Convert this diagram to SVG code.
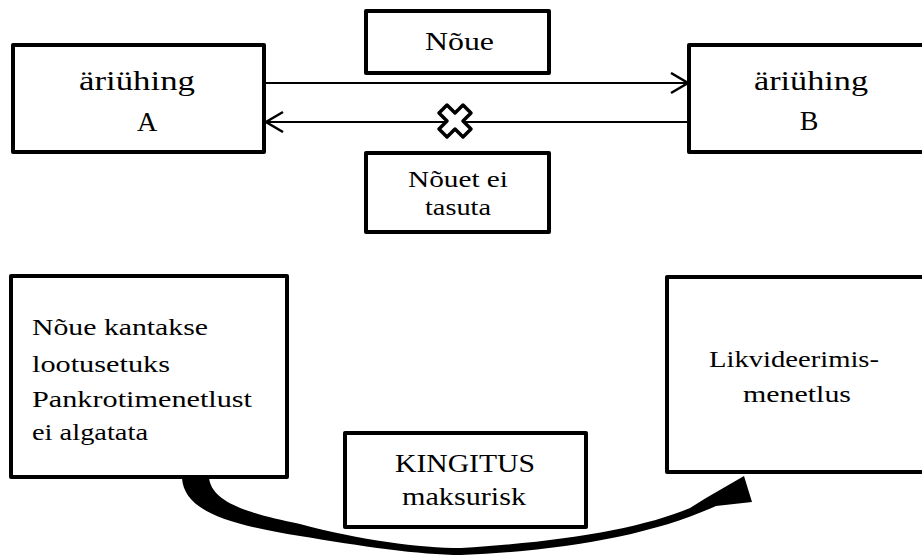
<svg xmlns="http://www.w3.org/2000/svg" width="922" height="558" viewBox="0 0 922 558">
<defs>
<style>
.box{fill:#fff;stroke:#000;stroke-width:4;stroke-linejoin:round}
.t{font-family:"Liberation Serif","Times New Roman",serif;fill:#000}
.ln{stroke:#000;stroke-width:2;fill:none}
</style>
<marker id="chev" markerUnits="userSpaceOnUse" markerWidth="24" markerHeight="26" refX="18" refY="11" orient="auto">
<path d="M1,1 L18,11 L1,21" fill="none" stroke="#000" stroke-width="2.5"/>
</marker>
</defs>
<rect width="922" height="558" fill="#fff"/>

<g id="connectors">
<line class="ln" x1="264" y1="83" x2="688" y2="83" marker-end="url(#chev)"/>
<line class="ln" x1="688" y1="122" x2="266" y2="122" marker-end="url(#chev)"/>
<path id="curved-arrow" fill="#000" d="M182,478 C184,510 225,524 300,536 C360,546 420,555 461,555 C560,551 650,536 716,506 L752,502 L744,476 L706,498 L690,508 C640,529 560,542 461,548 C420,548 360,540 300,524 C240,512 212,500 209,478 Z"/>
</g>

<g id="cross">
<path transform="translate(455,121)" d="M-16,-8 L-8,-16 L0,-8 L8,-16 L16,-8 L8,0 L16,8 L8,16 L0,8 L-8,16 L-16,8 L-8,0 Z" fill="#fff" stroke="#000" stroke-width="3.5" stroke-linejoin="round"/>
</g>

<g id="node-a">
<rect class="box" x="13" y="45" width="251" height="107"/>
<text class="t" x="79" y="90" font-size="28" textLength="116" lengthAdjust="spacingAndGlyphs">äriühing</text>
<text class="t" x="147" y="131" font-size="28" text-anchor="middle">A</text>
</g>

<g id="node-b">
<rect class="box" x="689" y="45" width="260" height="107"/>
<text class="t" x="754" y="90" font-size="28" textLength="114" lengthAdjust="spacingAndGlyphs">äriühing</text>
<text class="t" x="809" y="130" font-size="28" text-anchor="middle">B</text>
</g>

<g id="node-noue">
<rect class="box" x="366" y="11" width="183" height="62"/>
<text class="t" x="425" y="50" font-size="25" textLength="69" lengthAdjust="spacingAndGlyphs">Nõue</text>
</g>

<g id="node-noue-ei">
<rect class="box" x="366" y="153" width="183" height="79"/>
<text class="t" x="408" y="187" font-size="24" textLength="100" lengthAdjust="spacingAndGlyphs">Nõuet ei</text>
<text class="t" x="425" y="215" font-size="24" textLength="66" lengthAdjust="spacingAndGlyphs">tasuta</text>
</g>

<g id="node-lootusetu">
<rect class="box" x="11" y="276" width="276" height="201"/>
<text class="t" x="32" y="335" font-size="23" textLength="176" lengthAdjust="spacingAndGlyphs">Nõue kantakse</text>
<text class="t" x="32" y="372" font-size="23" textLength="138" lengthAdjust="spacingAndGlyphs">lootusetuks</text>
<text class="t" x="32" y="407" font-size="23" textLength="220" lengthAdjust="spacingAndGlyphs">Pankrotimenetlust</text>
<text class="t" x="32" y="440" font-size="23" textLength="116" lengthAdjust="spacingAndGlyphs">ei algatata</text>
</g>

<g id="node-likvideerimis">
<rect class="box" x="667" y="277" width="280" height="195"/>
<text class="t" x="709" y="367" font-size="23" textLength="170" lengthAdjust="spacingAndGlyphs">Likvideerimis-</text>
<text class="t" x="743" y="402" font-size="23" textLength="108" lengthAdjust="spacingAndGlyphs">menetlus</text>
</g>

<g id="node-kingitus">
<rect class="box" x="345" y="433" width="241" height="94"/>
<text class="t" x="395" y="472" font-size="25" textLength="140" lengthAdjust="spacingAndGlyphs">KINGITUS</text>
<text class="t" x="402" y="505" font-size="25" textLength="124" lengthAdjust="spacingAndGlyphs">maksurisk</text>
</g>
</svg>
